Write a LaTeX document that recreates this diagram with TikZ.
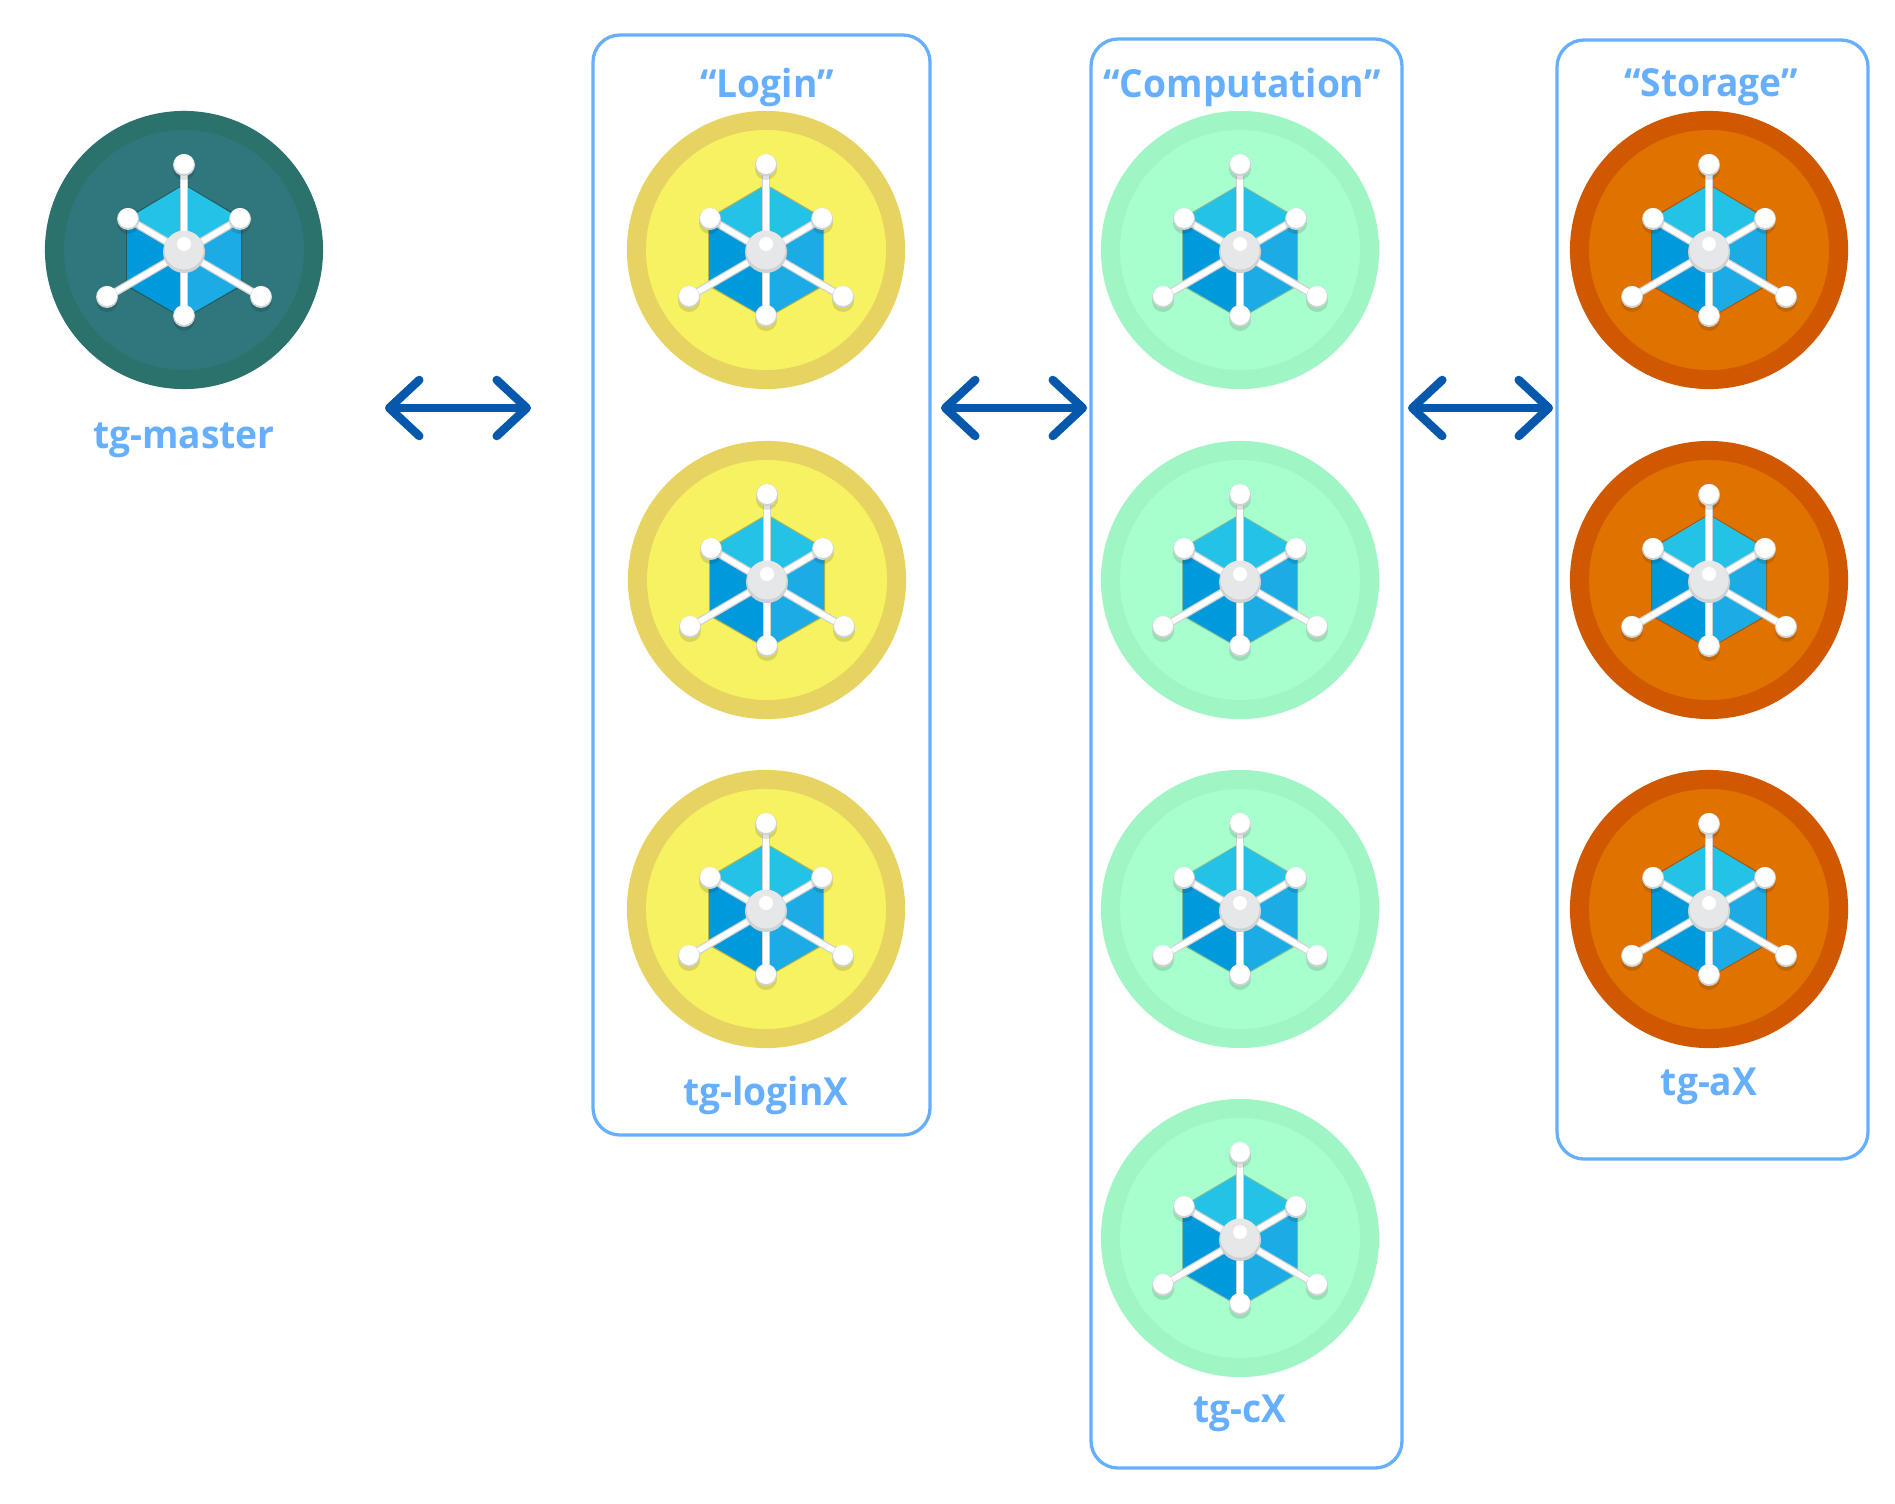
\documentclass[tikz,border=0pt]{standalone}
\usepackage{fontspec}
\setmainfont[FakeStretch=0.96]{Open Sans}
\usetikzlibrary{arrows.meta}
\definecolor{boxblue}{HTML}{66AFFF}
\definecolor{arrowblue}{HTML}{0558AC}
\definecolor{faceTop}{HTML}{25C2E8}
\definecolor{faceLeft}{HTML}{0099DC}
\definecolor{faceRight}{HTML}{1BABE5}
\definecolor{hubGrey}{HTML}{E6E7E8}
\definecolor{hubDark}{HTML}{CFD1D3}
\definecolor{masterRim}{HTML}{2B716C}
\definecolor{masterFill}{HTML}{30777D}
\definecolor{loginRim}{HTML}{E7D362}
\definecolor{loginFill}{HTML}{F6F261}
\definecolor{compRim}{HTML}{A0F5C4}
\definecolor{compFill}{HTML}{A8FFCE}
\definecolor{storeRim}{HTML}{D05800}
\definecolor{storeFill}{HTML}{E07300}
\tikzset{
	atom/.pic={
		\fill[black,opacity=0.25] (0,-66) -- (58,-32) -- (58,36) -- (0,69) -- (-58,36) -- (-58,-32) -- cycle;
		\fill[faceLeft] (0,3) -- (0,68) -- (-57,35) -- (-57,-31) -- cycle;
		\fill[faceRight] (0,3) -- (0,68) -- (57,35) -- (57,-31) -- cycle;
		\fill[faceTop] (0,3) -- (-57,-31) -- (0,-65) -- (57,-31) -- cycle;
		\foreach \sx/\sy in {0/-85,56/-31,-56/-31,-77/47,77/47,0/66} {
			\draw[hubDark,line width=0.08cm] (0,2) -- (\sx,\sy);
			\draw[white,line width=0.055cm] (0,2) -- (\sx,\sy);
		}
		\foreach \sx/\sy in {0/-85,56/-31,-56/-31,-77/47,77/47,0/66} {
			\fill[black,opacity=0.12] (\sx,\sy+4) circle[radius=11];
			\fill[hubDark] (\sx,\sy) circle[radius=11];
			\fill[white] (\sx,\sy-1) circle[radius=10];
		}
		\fill[hubDark] (0,2) circle[radius=21];
		\fill[hubGrey] (0,0) circle[radius=19.5];
		\fill[white] (0,-6) circle[radius=7];
	},
	rim/.style={circle,inner sep=0pt,minimum size=2.59cm,line width=0.19cm},
	groupbox/.style={draw=boxblue,line width=0.033cm,rounded corners=0.27cm},
	lbl/.style={text=boxblue,font=\fontsize{11}{14}\selectfont\bfseries,inner sep=0pt},
	link/.style={arrowblue,line width=0.075cm,line cap=round,
		{Straight Barb[length=0.3cm,width=0.56cm,round,line width=0.085cm]}-{Straight Barb[length=0.3cm,width=0.56cm,round,line width=0.085cm]}}
}
\begin{document}
\begin{tikzpicture}[x=0.01cm,y=-0.01cm]
	\useasboundingbox (0,0) rectangle (1895,1503);
	% boxes
	\draw[groupbox] (593,35) rectangle (930,1135);
	\draw[groupbox] (1091,39) rectangle (1402,1468);
	\draw[groupbox] (1557,40) rectangle (1868,1159);
	% master
	\node[rim,draw=masterRim,fill=masterFill] (M) at (184,250) {};
	% login
	\begin{scope}[every node/.style={rim,draw=loginRim,fill=loginFill}]
		\node (L1) at (766,250) {};
		\node (L2) at (767,580) {};
		\node (L3) at (766,909) {};
	\end{scope}
	% computation
	\begin{scope}[every node/.style={rim,draw=compRim,fill=compFill}]
		\node (C1) at (1240,250) {};
		\node (C2) at (1240,580) {};
		\node (C3) at (1240,909) {};
		\node (C4) at (1240,1238) {};
	\end{scope}
	% storage
	\begin{scope}[every node/.style={rim,draw=storeRim,fill=storeFill}]
		\node (S1) at (1709,250) {};
		\node (S2) at (1709,580) {};
		\node (S3) at (1709,909) {};
	\end{scope}
	\foreach \n in {M,L1,L2,L3,C1,C2,C3,C4,S1,S2,S3}
		\pic at (\n) {atom};
	% labels
	\node[lbl] (mastername) at (184,440) {tg-master};
	\node[lbl] (logintitle) at (767,87) {“Login”};
	\node[lbl] (comptitle) at (1242,87) {“Computation”};
	\node[lbl] (storetitle) at (1711,87) {“Storage”};
	\node[lbl] (loginname) at (766,1095) {tg-loginX};
	\node[lbl] (compname) at (1240,1413) {tg-cX};
	\node[lbl] (storename) at (1709,1086) {tg-aX};
	% arrows
	\coordinate (a1) at (385,408);
	\coordinate (a2) at (531,408);
	\coordinate (b1) at (941,408);
	\coordinate (b2) at (1087,408);
	\coordinate (c1) at (1408,408);
	\coordinate (c2) at (1553,408);
	\draw[link] (a1) -- (a2);
	\draw[link] (b1) -- (b2);
	\draw[link] (c1) -- (c2);
\end{tikzpicture}
\end{document}
